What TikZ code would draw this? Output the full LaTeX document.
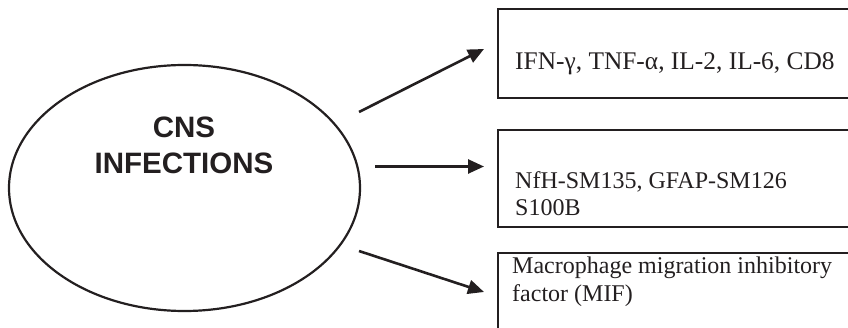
\documentclass[tikz,border=0pt]{standalone}
\usepackage{fontspec}
\setmainfont{Liberation Serif}
\newfontfamily\arialfont{Liberation Sans}
\usetikzlibrary{shapes.geometric,arrows.meta}
\definecolor{ink}{HTML}{231F20}
\tikzset{
  boxnode/.style={draw=ink, line width=2.2pt, rectangle, anchor=north west, inner sep=0pt},
  boxtext/.style={anchor=base west, inner sep=0pt, font=\fontsize{24}{27}\selectfont, text=ink},
  conn/.style={draw=ink, line width=2.6pt, -{Triangle[length=16pt,width=14pt]}},
}
\begin{document}
\begin{tikzpicture}[x=1pt,y=-1pt]
\useasboundingbox (0,0) rectangle (848,328);
\clip (0,0) rectangle (848,328);
% ellipse
\node[ellipse, draw=ink, line width=2.2pt, minimum width=351pt, minimum height=246pt, inner sep=0pt] (cns) at (184.5,188) {};
\node[anchor=base, inner sep=0pt, font=\arialfont\bfseries\fontsize{29.5}{35}\selectfont, text=ink] (cnsa) at (184,138) {CNS};
\node[anchor=base, inner sep=0pt, font=\arialfont\bfseries\fontsize{29.5}{35}\selectfont, text=ink] (cnsb) at (184,174) {INFECTIONS};
% boxes
\node[boxnode, minimum width=360pt, minimum height=89pt] (b1) at (497,8) {};
\node[boxnode, minimum width=360pt, minimum height=97pt] (b2) at (497,129) {};
\node[boxnode, minimum width=360pt, minimum height=97pt] (b3) at (497,252) {};
% texts
\node[boxtext, font=\fontsize{25.4}{27}\selectfont] (t1) at (515,70) {IFN-γ, TNF-α, IL-2, IL-6, CD8};
\node[boxtext] (t2a) at (515,189) {NfH-SM135, GFAP-SM126};
\node[boxtext] (t2b) at (515,216) {S100B};
\node[boxtext] (t3a) at (512,274) {Macrophage migration inhibitory};
\node[boxtext] (t3b) at (512,301.5) {factor (MIF)};
% connectors
\coordinate (s1) at (359,112);
\coordinate (e1) at (484,49);
\coordinate (s2) at (375,166.5);
\coordinate (e2) at (484,166.5);
\coordinate (s3) at (359,251);
\coordinate (e3) at (484,292);
\draw[conn] (s1) -- (e1);
\draw[conn] (s2) -- (e2);
\draw[conn] (s3) -- (e3);
\end{tikzpicture}
\end{document}
